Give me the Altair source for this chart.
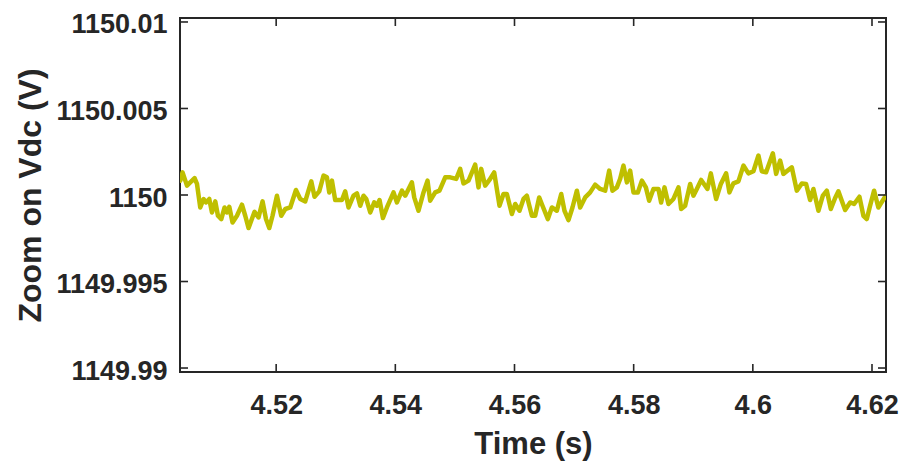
import altair as alt
import pandas as pd

time_s = [4.50391, 4.50429, 4.50503, 4.50558, 4.50631, 4.50671, 4.50726, 4.50782, 4.50822, 4.50877,
          4.50923, 4.50978, 4.51023, 4.51079, 4.51134, 4.51174, 4.51213, 4.51268, 4.51342, 4.51426,
          4.51481, 4.51537, 4.51637, 4.51704, 4.51772, 4.51829, 4.51884, 4.51939, 4.52013, 4.52085,
          4.52153, 4.52236, 4.52332, 4.52404, 4.52488, 4.52589, 4.52644, 4.52723, 4.52795, 4.52852,
          4.52891, 4.52936, 4.52991, 4.53104, 4.53159, 4.53215, 4.53298, 4.53356, 4.53411, 4.53466,
          4.53512, 4.53579, 4.53646, 4.53691, 4.53735, 4.53792, 4.53859, 4.53970, 4.54027, 4.54111,
          4.54166, 4.54278, 4.54317, 4.54389, 4.54473, 4.54540, 4.54585, 4.54669, 4.54741, 4.54837,
          4.54921, 4.55022, 4.55089, 4.55144, 4.55228, 4.55340, 4.55396, 4.55441, 4.55508, 4.55580,
          4.55659, 4.55748, 4.55815, 4.55872, 4.55956, 4.56012, 4.56084, 4.56151, 4.56208, 4.56235,
          4.56292, 4.56347, 4.56414, 4.56470, 4.56560, 4.56627, 4.56711, 4.56784, 4.56839, 4.56906,
          4.56973, 4.57047, 4.57102, 4.57186, 4.57270, 4.57354, 4.57438, 4.57522, 4.57589, 4.57644,
          4.57718, 4.57773, 4.57829, 4.57886, 4.57941, 4.57997, 4.58070, 4.58138, 4.58205, 4.58260,
          4.58332, 4.58416, 4.58461, 4.58517, 4.58584, 4.58668, 4.58752, 4.58797, 4.58864, 4.58948,
          4.59003, 4.59060, 4.59133, 4.59238, 4.59295, 4.59384, 4.59463, 4.59552, 4.59607, 4.59674,
          4.59758, 4.59842, 4.59926, 4.60010, 4.60094, 4.60151, 4.60223, 4.60336, 4.60391, 4.60458,
          4.60513, 4.60654, 4.60738, 4.60822, 4.60894, 4.60961, 4.61017, 4.61101, 4.61175, 4.61242,
          4.61309, 4.61381, 4.61436, 4.61549, 4.61633, 4.61700, 4.61789, 4.61856, 4.61913, 4.61968,
          4.62035, 4.62107, 4.62220]

vdc = [1150.00083, 1150.00131, 1150.00054, 1150.00073, 1150.00098, 1150.00064, 1149.99928, 1149.99977, 1149.99957, 1149.99977,
       1149.99899, 1149.99963, 1149.99880, 1149.99861, 1149.99928, 1149.99899, 1149.99932, 1149.99841, 1149.99880, 1149.99944,
       1149.99880, 1149.99809, 1149.99903, 1149.99870, 1149.99963, 1149.99861, 1149.99809, 1149.99880, 1149.99996, 1149.99880,
       1149.99919, 1149.99928, 1150.00029, 1149.99977, 1149.99963, 1150.00079, 1149.99990, 1150.00021, 1150.00112, 1150.00102,
       1150.00015, 1150.00083, 1149.99971, 1149.99971, 1150.00021, 1149.99928, 1149.99996, 1150.00009, 1149.99938, 1149.99996,
       1149.99977, 1149.99899, 1149.99957, 1149.99938, 1149.99971, 1149.99867, 1149.99928, 1150.00015, 1149.99957, 1150.00025,
       1149.99996, 1150.00073, 1149.99986, 1149.99909, 1150.00015, 1150.00083, 1149.99967, 1150.00015, 1150.00025, 1150.00102,
       1150.00102, 1150.00093, 1150.00151, 1150.00067, 1150.00083, 1150.00176, 1150.00044, 1150.00151, 1150.00054, 1150.00087,
       1150.00131, 1149.99938, 1150.00006, 1150.00006, 1149.99890, 1149.99948, 1149.99909, 1149.99977, 1149.99996, 1149.99957,
       1149.99880, 1149.99880, 1149.99986, 1149.99938, 1149.99861, 1149.99928, 1149.99909, 1150.00006, 1149.99909, 1149.99855,
       1149.99928, 1150.00025, 1149.99928, 1149.99986, 1150.00015, 1150.00060, 1150.00035, 1150.00025, 1150.00141, 1150.00025,
       1150.00044, 1150.00093, 1150.00170, 1150.00073, 1150.00141, 1150.00015, 1150.00015, 1150.00083, 1150.00044, 1149.99967,
       1150.00035, 1150.00035, 1149.99957, 1150.00044, 1149.99948, 1149.99977, 1150.00044, 1149.99919, 1149.99938, 1150.00064,
       1149.99996, 1150.00035, 1150.00087, 1150.00035, 1150.00125, 1149.99977, 1150.00064, 1150.00125, 1150.00015, 1150.00067,
       1150.00079, 1150.00170, 1150.00125, 1150.00137, 1150.00228, 1150.00137, 1150.00131, 1150.00241, 1150.00122, 1150.00199,
       1150.00122, 1150.00160, 1150.00025, 1150.00067, 1150.00064, 1149.99971, 1150.00035, 1149.99909, 1149.99996, 1150.00025,
       1149.99919, 1149.99983, 1150.00021, 1149.99913, 1149.99957, 1149.99948, 1149.99990, 1149.99880, 1149.99861, 1149.99938,
       1150.00025, 1149.99928, 1149.99990]

x_ticks = [4.52, 4.54, 4.56, 4.58, 4.60, 4.62]
y_ticks = [1149.99, 1149.995, 1150.0, 1150.005, 1150.01]

X_DOMAIN = [4.50386, 4.62235]
Y_DOMAIN = [1149.98977, 1150.01023]

W, H = 706, 354
INK = "#262626"
FONT = "Liberation Sans"

df = pd.DataFrame({"t": time_s, "v": vdc})
dfx = pd.DataFrame({"t": x_ticks})
dfy = pd.DataFrame({"v": y_ticks})

xs = alt.Scale(domain=X_DOMAIN, nice=False, zero=False)
ys = alt.Scale(domain=Y_DOMAIN, nice=False, zero=False)

x_axis = alt.Axis(values=x_ticks, format=".2~f", title="Time (s)", grid=False, domain=False,
                  ticks=False, labelPadding=20, labelFontSize=27, labelFont=FONT,
                  labelFontWeight="bold", labelColor=INK, titleFontSize=31, titleFont=FONT,
                  titleFontWeight="bold", titleColor=INK, titleX=W / 2, titleY=81,
                  titleBaseline="alphabetic", titleAlign="center")
y_axis = alt.Axis(values=y_ticks, format=".3~f", title="Zoom on Vdc (V)", grid=False, domain=False,
                  ticks=False, labelPadding=13, labelOffset=3, labelFontSize=27, labelFont=FONT,
                  labelFontWeight="bold", labelColor=INK, titleFontSize=32, titleFont=FONT,
                  titleFontWeight="bold", titleColor=INK, titleX=-150, titleY=H / 2,
                  titleAngle=270, titleBaseline="middle", titleAlign="center")

line = alt.Chart(df).mark_line(color="#BFBF00", strokeWidth=4.5, strokeJoin="round",
                               strokeCap="round", clip=True).encode(
    x=alt.X("t:Q", scale=xs, axis=x_axis),
    y=alt.Y("v:Q", scale=ys, axis=y_axis),
)

tick_style = dict(color=INK, strokeWidth=1.6)
xb = alt.Chart(dfx).mark_rule(**tick_style).encode(x=alt.X("t:Q", scale=xs), y=alt.value(H), y2=alt.value(H - 8))
xt = alt.Chart(dfx).mark_rule(**tick_style).encode(x=alt.X("t:Q", scale=xs), y=alt.value(0), y2=alt.value(8))
yl = alt.Chart(dfy).mark_rule(**tick_style).encode(y=alt.Y("v:Q", scale=ys), x=alt.value(0), x2=alt.value(8))
yr = alt.Chart(dfy).mark_rule(**tick_style).encode(y=alt.Y("v:Q", scale=ys), x=alt.value(W), x2=alt.value(W - 8))

chart = alt.layer(line, xb, xt, yl, yr).properties(
    width=W, height=H,
    autosize=alt.AutoSizeParams(type="none"),
    padding={"left": 180, "top": 18, "right": 16, "bottom": 92},
    background="white",
).configure_view(stroke=INK, strokeWidth=2)

chart.save("out.html", embed_options={"renderer": "svg", "actions": False})
